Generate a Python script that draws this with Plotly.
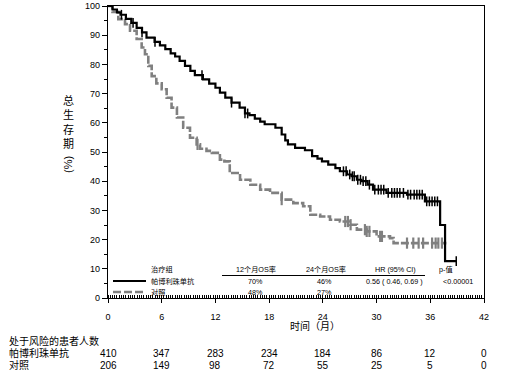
import numpy as np
import plotly.graph_objects as go

# ---------------- data ----------------
pem_t = [0, 0.5, 1.0, 1.4, 2.0, 2.6, 3.2, 3.8, 4.3, 5.2, 5.8, 6.4, 7.0, 7.5, 8.0, 8.6, 9.2, 9.7,
         10.6, 11.3, 12.0, 12.5, 13.1, 13.8, 14.7, 15.3, 15.8, 16.4, 17.0, 17.5, 18.7, 19.4, 19.8,
         20.1, 20.9, 22.0, 22.8, 23.4, 23.9, 24.6, 25.4, 25.9, 26.7, 27.2, 27.8, 28.3, 29.0, 29.6,
         31.1, 33.4, 35.4, 37.1, 37.65, 38.9]
pem_s = [100, 98.8, 97.8, 97.0, 95.6, 94.2, 92.5, 91.0, 89.2, 87.7, 86.5, 85.2, 83.8, 82.7, 81.2,
         79.5, 77.8, 76.3, 74.9, 73.4, 72.0, 70.3, 68.6, 66.9, 65.2, 63.2, 62.6, 61.4, 60.4, 59.5,
         58.3, 56.0, 54.0, 52.6, 51.4, 50.6, 48.6, 47.7, 46.8, 45.7, 44.5, 43.4, 42.3, 41.7, 40.5,
         40.0, 38.8, 37.1, 36.0, 35.4, 33.1, 25.0, 12.6, 12.6]
pem_cens = [1.5, 2.8, 3.8, 5.25, 10.5, 13.8, 15.3, 15.6, 26.3, 26.6, 27.0, 27.3, 27.5, 27.9, 28.2,
            28.5, 28.8, 29.2, 29.8, 30.2, 30.5, 30.8, 31.3, 31.7, 32.0, 32.3, 32.6, 33.0, 33.5,
            33.8, 34.2, 34.5, 34.8, 35.1, 35.6, 35.9, 36.2, 36.5, 36.8, 38.9]

ctl_t = [0, 0.5, 1.15, 1.9, 2.46, 3.2, 3.76, 4.13, 4.5, 4.88, 5.4, 6.0, 6.55, 7.1, 7.7, 8.4, 9.16,
         9.9, 10.28, 11.0, 11.6, 12.5, 13.0, 13.6, 14.75, 15.9, 17.0, 18.1, 19.4, 20.7, 21.8, 22.6,
         23.7, 24.8, 25.9, 27.0, 27.8, 28.9, 30.0, 31.5, 31.9, 37.8]
ctl_s = [100, 98.0, 95.5, 93.8, 91.5, 88.7, 85.8, 83.5, 79.5, 76.0, 73.5, 71.5, 68.6, 65.2, 61.8,
         58.3, 54.9, 52.6, 51.1, 50.4, 49.7, 47.4, 46.8, 42.8, 40.5, 38.8, 37.1, 36.0, 33.7, 32.5,
         31.4, 28.5, 27.9, 26.8, 26.2, 25.1, 23.4, 22.8, 21.1, 20.5, 18.8, 18.8]
ctl_cens = [10.0, 19.4, 26.5, 26.8, 27.1, 28.7, 28.9, 29.2, 30.4, 30.6, 33.4, 34.1, 34.7, 35.2,
            36.2, 36.6, 36.9, 37.3]

risk_times = [0, 6, 12, 18, 24, 30, 36, 42]
risk_pem = [410, 347, 283, 234, 184, 86, 12, 0]
risk_ctl = [206, 149, 98, 72, 55, 25, 5, 0]

groups = ["帕博利珠单抗", "对照"]
os12 = ["70%", "48%"]
os24 = ["46%", "27%"]
hr_text = "0.56 ( 0.46, 0.69 )"
p_text = "<0.00001"

x_ticks = [0, 6, 12, 18, 24, 30, 36, 42]
y_ticks = [0, 10, 20, 30, 40, 50, 60, 70, 80, 90, 100]

FONT = "Liberation Sans, Arial, Noto Sans CJK SC"


def step_at(ts, ss, t):
    idx = np.searchsorted(np.array(ts), t, side="right") - 1
    return np.array(ss)[idx]


fig = go.Figure()
fig.add_trace(go.Scatter(x=ctl_t, y=ctl_s, mode="lines", line_shape="hv",
                         line=dict(color="#808080", width=2.6, dash="8px,2px"),
                         showlegend=False, hoverinfo="skip"))
fig.add_trace(go.Scatter(x=ctl_cens, y=step_at(ctl_t, ctl_s, np.array(ctl_cens)), mode="markers",
                         marker=dict(symbol="line-ns", size=8,
                                     line=dict(color="#808080", width=2.2)),
                         showlegend=False, hoverinfo="skip"))
fig.add_trace(go.Scatter(x=pem_t, y=pem_s, mode="lines", line_shape="hv",
                         line=dict(color="black", width=2.2),
                         showlegend=False, hoverinfo="skip"))
fig.add_trace(go.Scatter(x=pem_cens, y=step_at(pem_t, pem_s, np.array(pem_cens)), mode="markers",
                         marker=dict(symbol="line-ns", size=7,
                                     line=dict(color="black", width=1.5)),
                         showlegend=False, hoverinfo="skip"))

L, R, T, B = 108, 21, 6, 79
W, H = 505, 377
PH = H - T - B


def py(p):
    return (H - B - p) / PH


def px(p):
    return (p - L) / (W - L - R)


ann = []


def add(text, x, y, size, xanchor="center", xref="paper", angle=0):
    ann.append(dict(text=text, x=x, y=py(y), xref=xref, yref="paper",
                    xanchor=xanchor, yanchor="middle", showarrow=False, textangle=angle,
                    font=dict(size=size, family=FONT, color="black")))


# y title
add("总<br>生<br>存<br>期", px(68), 122, 11)
add("(%)", px(68), 165, 11, angle=-90)
# x title
add("时间（月）", px(315), 326, 10)
# risk table
add("处于风险的患者人数", px(7), 341, 10, xanchor="left")
for lab, yy, vals in [(groups[0], 353, risk_pem), (groups[1], 365, risk_ctl)]:
    add(lab, px(7), yy, 10, xanchor="left")
    for t, v in zip(risk_times, vals):
        add(str(v), t, yy, 10, xref="x")

# inner legend table
fs = 7.2
hdr_y, r1_y, r2_y = 269, 281, 292
add("治疗组", px(149), hdr_y, fs, xanchor="left")
for txt, cx in [("12个月OS率", 256), ("24个月OS率", 326), ("HR (95% CI)", 395), ("p-值", 446)]:
    add(txt, px(cx), hdr_y, fs)
for i, yy in enumerate([r1_y, r2_y]):
    add(groups[i], px(149), yy, fs, xanchor="left")
    add(os12[i], px(255), yy, fs)
    add(os24[i], px(324), yy, fs)
add(hr_text, px(394), r1_y, fs)
add(p_text, px(458), r1_y, fs)

shapes = [
    dict(type="line", xref="paper", yref="paper", x0=px(222), x1=px(425), y0=py(275.5), y1=py(275.5),
         line=dict(color="black", width=1)),
    dict(type="line", xref="paper", yref="paper", x0=px(113), x1=px(146), y0=py(r1_y), y1=py(r1_y),
         line=dict(color="black", width=2.2)),
    dict(type="line", xref="paper", yref="paper", x0=px(113), x1=px(146), y0=py(r2_y), y1=py(r2_y),
         line=dict(color="#808080", width=2.6, dash="8px,3px")),
]

fig.update_layout(
    width=W, height=H, margin=dict(l=L, r=R, t=T, b=B, autoexpand=False),
    paper_bgcolor="white", plot_bgcolor="white",
    font=dict(family=FONT, color="black"),
    annotations=ann, shapes=shapes,
    xaxis=dict(range=[0, 42], tickvals=x_ticks, ticks="outside", ticklen=4, tickwidth=1,
               tickcolor="black", showline=True, linecolor="black", linewidth=1.2, mirror=True,
               showgrid=False, zeroline=False, tickfont=dict(size=9, family=FONT),
               automargin=False, ticklabelstandoff=6,
               minor=dict(dtick=0.25, tick0=0, ticks="inside", ticklen=3, tickcolor="black",
                          tickwidth=1, showgrid=False)),
    yaxis=dict(range=[0, 100], tickvals=y_ticks, ticks="outside", ticklen=5, tickwidth=1,
               tickcolor="black", showline=True, linecolor="black", linewidth=1.2, mirror=True,
               showgrid=False, zeroline=False, tickfont=dict(size=9, family=FONT),
               automargin=False,
               minor=dict(dtick=5, tick0=0, ticks="outside", ticklen=3, tickcolor="black",
                          tickwidth=1, showgrid=False)),
)

fig.write_html("out.html", config={"displayModeBar": False},
               post_script="document.body.style.margin='0';document.body.style.padding='0';")
